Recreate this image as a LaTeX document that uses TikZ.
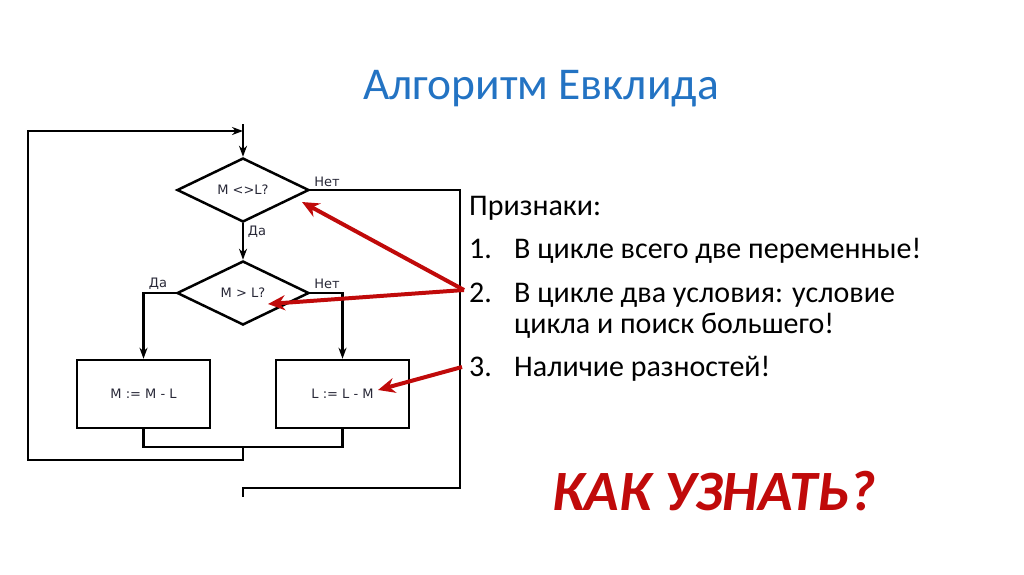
\documentclass[tikz,border=0pt]{standalone}
\usepackage{fontspec}
\usepackage{xcolor}
\usepackage{tikz}
\usetikzlibrary{shapes.geometric,arrows.meta}
\setmainfont{Carlito}
\newfontfamily\chartfont{DejaVu Sans}

\definecolor{titleblue}{RGB}{35,115,195}
\definecolor{hintred}{RGB}{192,10,10}
\definecolor{chartink}{RGB}{40,40,55}

\begin{document}
\begin{tikzpicture}[x=1pt,y=-1pt,
  line/.style={line width=2.5pt,black},
  arr/.style={line,-{Stealth[length=11pt,width=8pt]}},
  pointer/.style={line width=4pt,hintred,-{Stealth[length=17pt,width=15pt]}},
  test/.style={diamond,draw,line width=2.5pt,minimum width=132pt,minimum height=64pt,
    inner sep=0pt,font=\chartfont\fontsize{13}{15}\selectfont,text=chartink},
  assign/.style={rectangle,draw,line width=2.5pt,minimum width=133pt,minimum height=68pt,
    inner sep=0pt,font=\chartfont\fontsize{13}{15}\selectfont,text=chartink},
  branch/.style={font=\chartfont\fontsize{13}{15}\selectfont,text=chartink,inner sep=0pt},
  hint/.style={anchor=base west,inner sep=0pt,font=\fontsize{30}{34}\selectfont}]
\useasboundingbox (0,0) rectangle (1024,574);

% title
\node[anchor=base,inner sep=0pt,text=titleblue,font=\fontsize{45.5}{52}\selectfont] (title) at (541,99) {Алгоритм Евклида};

% flowchart
\node[test] (d1) at (243,190) {M <>L?};
\node[test] (d2) at (243,293) {M > L?};
\node[assign] (b1) at (143.5,394) {M := M - L};
\node[assign] (b2) at (342.5,394) {L := L - M};

\coordinate (in) at (243,124);
\coordinate (entry) at (243,131);
\coordinate (j) at (243,447);
\coordinate (loopL) at (28,460);
\coordinate (exitR) at (460,488);
\coordinate (out) at (243,497);

\draw[arr] (in) -- (d1.north);
\draw[arr] (d1.south) -- (d2.north);
\draw[arr] (d2.west) -| (b1.north);
\draw[arr] (d2.east) -| (b2.north);
\draw[line] (b1.south) |- (j) -| (b2.south);
\draw[arr] (j) |- (loopL) |- (entry);
\draw[line] (d1.east) -| (exitR) -| (out);

\node[branch] (yes1) at (257,232) {Да};
\node[branch] (no1) at (327,182) {Нет};
\node[branch] (yes2) at (158,284) {Да};
\node[branch] (no2) at (327,284) {Нет};

% hints
\node[hint] (head) at (469,215) {Признаки:};
\node[hint] (n1) at (469,258) {1.};
\node[hint] (t1) at (514,258) {В цикле всего две переменные!};
\node[hint] (n2) at (469,302) {2.};
\node[hint] (t2) at (514,302) {В цикле два условия: условие};
\node[hint] (t2b) at (514,333) {цикла и поиск большего!};
\node[hint] (n3) at (469,376) {3.};
\node[hint] (t3) at (514,376) {Наличие разностей!};

\coordinate (from2) at (464,290);
\coordinate (from3) at (462,367);
\coordinate (tipA) at (302,202);
\coordinate (tipB) at (268,304);
\coordinate (tipC) at (378,390);
\draw[pointer] (from2) -- (tipA);
\draw[pointer] (from2) -- (tipB);
\draw[pointer] (from3) -- (tipC);

\node[anchor=base,inner sep=0pt,text=hintred,font=\bfseries\itshape\fontsize{57}{64}\selectfont] (ask) at (714,510) {КАК УЗНАТЬ?};
\end{tikzpicture}
\end{document}
